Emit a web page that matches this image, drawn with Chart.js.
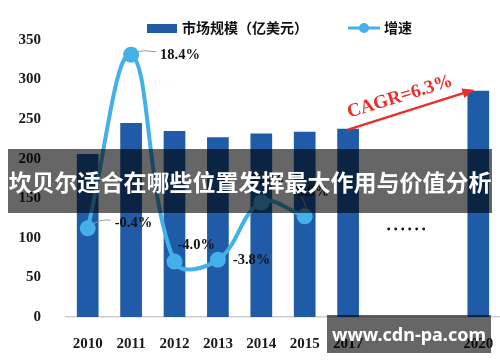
<!DOCTYPE html>
<html>
<head>
<meta charset="utf-8">
<title>市场规模与增速</title>
<script src="https://cdn.jsdelivr.net/npm/chart.js@4"></script>
<style>
  body { margin: 0; width: 500px; height: 362px; overflow: hidden; background: #fff; }
  #wrap { position: relative; width: 510px; height: 362px; }
  #banner {
    position: absolute; left: 8px; top: 149px; width: 484px; height: 64px;
    background: rgba(0,0,0,0.6); color: #fff;
    font: bold 23px "Noto Sans CJK SC", sans-serif;
    display: flex; align-items: center; justify-content: center; white-space: nowrap;
  }
  #mark {
    position: absolute; left: 327px; top: 315px; width: 164px; height: 38px;
    background: rgba(0,0,0,0.6); color: #fff;
    font: bold 18px "Noto Sans", sans-serif; white-space: nowrap;
    display: flex; align-items: center; justify-content: center;
  }
</style>
</head>
<body>
<div id="wrap">
  <canvas id="chart" width="510" height="362"></canvas>
  <div id="banner">坎贝尔适合在哪些位置发挥最大作用与价值分析</div>
  <div id="mark">www.cdn-pa.com</div>
</div>
<script>
// data
const years = ['2010', '2011', '2012', '2013', '2014', '2015', '2017', '', '', '2020'];
const marketSize = [206, 245, 235, 227, 232, 234, 238, null, null, 286];
const growth = [-0.4, 18.4, -4.0, -3.8, 2.4, 0.9, null, null, null, null];
const growthLabels = ['-0.4%', '18.4%', '-4.0%', '-3.8%', '2.4%', '0.9%'];
const sizeName = '市场规模（亿美元）';
const growthName = '增速';
const cagrText = 'CAGR=6.3%';

const barBlue = '#1f5ba7';
const lineBlue = '#44b0e9';

// where each growth label sits relative to its point [dx, dy, leader?]
const labelPos = [[27, -5, true], [29, 0, true], [3, -16, false], [15, 0, false], [-10, -22, false], [-8, -24, true]];

const extras = {
  id: 'extras',
  afterDatasetsDraw(chart) {
    const ctx = chart.ctx;
    const x = chart.scales.x, y = chart.scales.y;
    const pts = chart.getDatasetMeta(1).data;
    ctx.save();

    // growth labels
    ctx.font = 'bold 14.5px "Liberation Serif", serif';
    ctx.fillStyle = '#111';
    ctx.textBaseline = 'middle';
    ctx.textAlign = 'left';
    growthLabels.forEach((t, i) => {
      const p = pts[i];
      const [dx, dy, leader] = labelPos[i];
      if (leader) {
        ctx.strokeStyle = '#9a9a9a';
        ctx.lineWidth = 1;
        ctx.beginPath();
        ctx.moveTo(p.x + 3, p.y - 3);
        ctx.quadraticCurveTo(p.x + dx * 0.5, p.y + dy - 5, p.x + dx - 4, p.y + dy - 3);
        ctx.stroke();
      }
      ctx.fillText(t, p.x + dx, p.y + dy);
    });

    // dots for the skipped years
    ctx.textAlign = 'center';
    ctx.font = 'bold 20px "Liberation Serif", serif';
    const mid = (x.getPixelForValue(7) + x.getPixelForValue(8)) / 2 - 7;
    for (let k = 0; k < 6; k++) {
      ctx.beginPath();
      ctx.arc(mid - 17.5 + k * 7, 229, 1.4, 0, Math.PI * 2);
      ctx.fill();
    }

    // CAGR arrow from 2017 bar top to 2020 bar top
    const x1 = x.getPixelForValue(6), y1 = y.getPixelForValue(marketSize[6]) + 1;
    const x2 = x.getPixelForValue(9) - 4, y2 = y.getPixelForValue(marketSize[9]) - 1;
    const ang = Math.atan2(y2 - y1, x2 - x1);
    ctx.strokeStyle = '#e8302a';
    ctx.fillStyle = '#e8302a';
    ctx.lineWidth = 2.5;
    ctx.beginPath();
    ctx.moveTo(x1, y1);
    ctx.lineTo(x2 - 9 * Math.cos(ang), y2 - 9 * Math.sin(ang));
    ctx.stroke();
    ctx.beginPath();
    ctx.moveTo(x2, y2);
    ctx.lineTo(x2 - 12 * Math.cos(ang) + 5 * Math.sin(ang), y2 - 12 * Math.sin(ang) - 5 * Math.cos(ang));
    ctx.lineTo(x2 - 12 * Math.cos(ang) - 5 * Math.sin(ang), y2 - 12 * Math.sin(ang) + 5 * Math.cos(ang));
    ctx.closePath();
    ctx.fill();

    ctx.translate(400, 97);
    ctx.rotate(-0.3);
    ctx.font = 'bold 19px "Liberation Serif", serif';
    ctx.fillText(cagrText, 0, 0);
    ctx.restore();

    // legend
    ctx.save();
    ctx.fillStyle = barBlue;
    ctx.fillRect(147, 24, 30, 9);
    ctx.font = 'bold 14px "Noto Sans CJK SC", sans-serif';
    ctx.fillStyle = '#111';
    ctx.textBaseline = 'middle';
    ctx.fillText(sizeName, 182, 28);
    ctx.strokeStyle = lineBlue;
    ctx.lineWidth = 3;
    ctx.beginPath();
    ctx.moveTo(348, 28);
    ctx.lineTo(380, 28);
    ctx.stroke();
    ctx.fillStyle = lineBlue;
    ctx.beginPath();
    ctx.arc(364, 28, 5, 0, Math.PI * 2);
    ctx.fill();
    ctx.fillStyle = '#111';
    ctx.fillText(growthName, 384, 28);
    ctx.restore();
  }
};

new Chart(document.getElementById('chart'), {
  data: {
    labels: years,
    datasets: [
      {
        type: 'bar',
        label: sizeName,
        data: marketSize,
        backgroundColor: barBlue,
        categoryPercentage: 1,
        barPercentage: 0.5,
        yAxisID: 'y',
        order: 1
      },
      {
        type: 'line',
        label: growthName,
        data: growth,
        borderColor: lineBlue,
        backgroundColor: lineBlue,
        borderWidth: 4,
        pointRadius: 6,
        tension: 0.4,
        yAxisID: 'y2',
        order: 0
      }
    ]
  },
  options: {
    responsive: false,
    animation: false,
    layout: { padding: { top: 40, right: 0, left: 0, bottom: 0 } },
    plugins: { legend: { display: false }, tooltip: { enabled: false } },
    scales: {
      x: {
        grid: { display: false },
        border: { display: true, color: '#cfcfcf', width: 1.5 },
        ticks: { font: { family: '"Liberation Serif", serif', size: 15, weight: 'bold' }, color: '#1a1a1a', padding: 10, maxRotation: 0, autoSkip: false },
        afterFit(s) { s.height = 45; }
      },
      y: {
        min: 0, max: 350,
        grid: { display: false },
        border: { display: false },
        ticks: { stepSize: 50, font: { family: '"Liberation Serif", serif', size: 15, weight: 'bold' }, color: '#1a1a1a', padding: 17 },
        afterFit(s) { s.width = 66; }
      },
      y2: {
        min: -10, max: 20,
        display: false
      }
    }
  },
  plugins: [extras]
});
</script>
</body>
</html>
